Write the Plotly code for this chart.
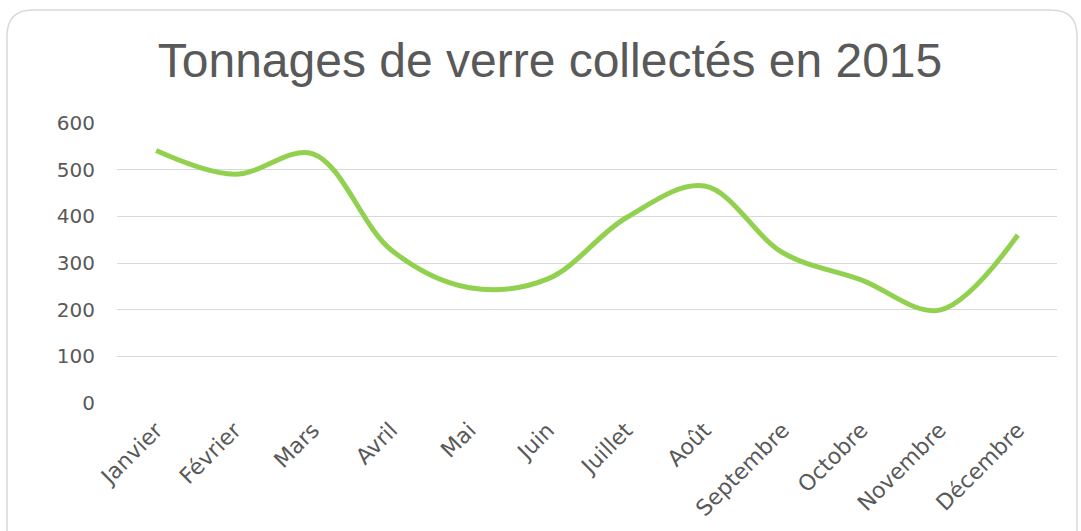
import plotly.graph_objects as go

mois = ["Janvier", "Février", "Mars", "Avril", "Mai", "Juin", "Juillet",
        "Août", "Septembre", "Octobre", "Novembre", "Décembre"]
tonnages = [541, 490, 534, 328, 247, 266, 397, 465, 322, 264, 199, 360]
y_ticks = [0, 100, 200, 300, 400, 500, 600]

W, H = 1081, 531
left, right, top, bottom = 117, 1057, 123, 403


def px(x):
    return (x - left) / (right - left)


def py(y):
    return (bottom - y) / (bottom - top)


fig = go.Figure()
fig.add_trace(
    go.Scatter(
        x=mois,
        y=tonnages,
        mode="lines",
        line=dict(color="#92d050", width=5, shape="spline", smoothing=1),
        hoverinfo="x+y",
    )
)

# rounded frame around the chart
x0, y0, x1, y1, r = 7, 10, 1077, 560, 26
frame = (
    f"M {px(x0)},{py(y1)} L {px(x0)},{py(y0 + r)} "
    f"Q {px(x0)},{py(y0)} {px(x0 + r)},{py(y0)} "
    f"L {px(x1 - r)},{py(y0)} Q {px(x1)},{py(y0)} {px(x1)},{py(y0 + r)} "
    f"L {px(x1)},{py(y1)}"
)
fig.add_shape(type="path", path=frame, xref="paper", yref="paper",
              line=dict(color="#d9d9d9", width=1.5), layer="below")

fig.update_layout(
    width=W,
    height=H,
    showlegend=False,
    plot_bgcolor="white",
    paper_bgcolor="white",
    margin=dict(l=left, r=W - right, t=top, b=H - bottom),
    title=dict(
        text="Tonnages de verre collectés en 2015",
        font=dict(family="Liberation Sans, Arial", size=48, color="#595959"),
        x=550 / W, xref="container", xanchor="center",
        y=1 - 60 / H, yref="container", yanchor="middle",
    ),
    xaxis=dict(
        type="category",
        range=[-0.5, 11.5],
        tickangle=-45,
        showgrid=False,
        showline=False,
        zeroline=False,
        ticks="",
        automargin=False,
        ticklabelstandoff=9,
        tickfont=dict(family="DejaVu Sans", size=22, color="#595959"),
    ),
    yaxis=dict(
        range=[0, 600],
        tickvals=y_ticks,
        showgrid=True,
        gridcolor="#d9d9d9",
        gridwidth=1.2,
        zeroline=False,
        showline=False,
        ticks="",
        automargin=False,
        ticklabelstandoff=21,
        tickfont=dict(family="DejaVu Sans", size=20, color="#595959"),
    ),
)

fig.write_html("out.html", config={"displayModeBar": False},
               post_script="document.body.style.margin='0';")
